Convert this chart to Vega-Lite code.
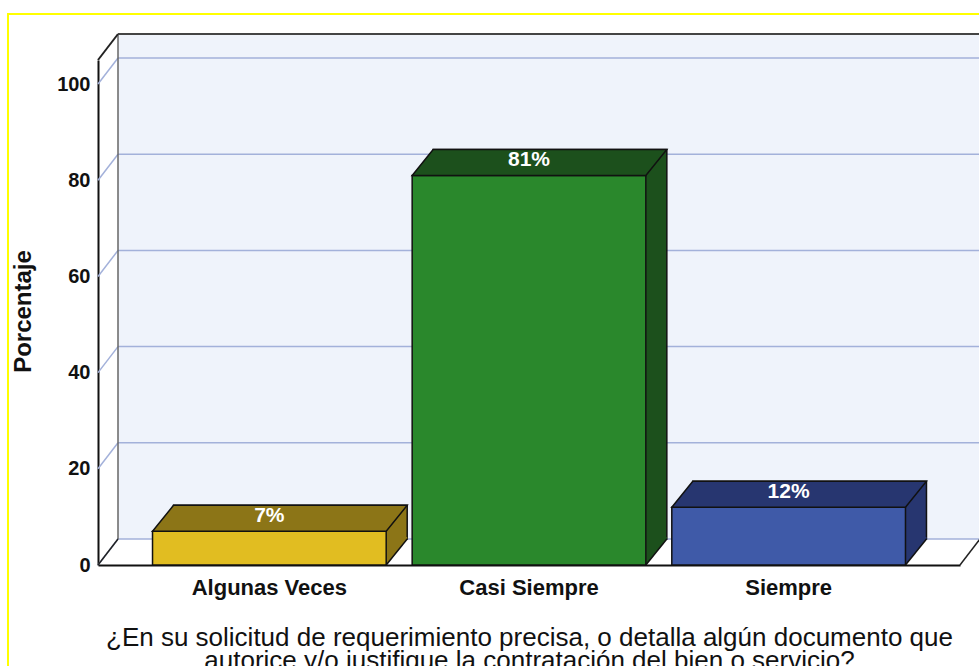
{
  "$schema": "https://vega.github.io/schema/vega-lite/v6.json",
  "width": 971,
  "height": 652,
  "autosize": {"type": "none"},
  "padding": {"left": 8, "top": 14, "right": 0, "bottom": 0},
  "background": "white",
  "config": {
    "view": {"stroke": "#FFFF00", "strokeWidth": 2, "fill": "white", "strokeDash": [971, 1623, 652]},
    "font": "Liberation Sans"
  },
  "datasets": {
    "barras": [
      {"categoria": "Algunas Veces", "porcentaje": 7, "etiqueta": "7%"},
      {"categoria": "Casi Siempre", "porcentaje": 81, "etiqueta": "81%"},
      {"categoria": "Siempre", "porcentaje": 12, "etiqueta": "12%"}
    ],
    "rejilla": [
      {"porcentaje": 0}, {"porcentaje": 20}, {"porcentaje": 40},
      {"porcentaje": 60}, {"porcentaje": 80}, {"porcentaje": 100}
    ]
  },
  "resolve": {"scale": {"x": "independent"}},
  "layer": [
    {
      "data": {"name": "barras"},
      "layer": [
        {
          "mark": {"type": "bar", "xOffset": 21, "yOffset": -26, "y2Offset": -26, "stroke": "#111111", "strokeWidth": 1.5, "opacity": 0},
          "encoding": {
            "x": {"field": "categoria", "type": "nominal", "scale": {"type": "band", "domain": ["Algunas Veces", "Casi Siempre", "Siempre"], "range": [90, 952], "paddingInner": 0.1, "paddingOuter": 0.21},
              "axis": {"orient": "bottom", "offset": -101, "domain": true, "domainColor": "#111111", "domainWidth": 2, "ticks": false, "tickSize": 0, "grid": false, "labelAngle": 0, "labelFontSize": 22, "labelFontWeight": "bold", "labelColor": "#111111", "labelPadding": 12,
                "title": ["¿En su solicitud de requerimiento precisa, o detalla algún documento que", "autorice y/o justifique la contratación del bien o servicio?"],
                "titleFontSize": 26, "titleFontWeight": "normal", "titleColor": "#111111", "titleLineHeight": 23, "titleY": 80, "titleBaseline": "alphabetic"}},
            "y": {"field": "porcentaje", "type": "quantitative", "scale": {"domain": [0, 105], "range": [551, 46], "nice": false, "zero": false},
              "axis": {"orient": "left", "offset": -90, "values": [0, 20, 40, 60, 80, 100], "domain": true, "domainColor": "#111111", "domainWidth": 2, "ticks": false, "tickSize": 0, "grid": false, "labelFontSize": 20, "labelFontWeight": "bold", "labelColor": "#111111", "labelPadding": 8,
                "title": "Porcentaje", "titleFontSize": 24, "titleFontWeight": "bold", "titleColor": "#111111", "titleAngle": -90, "titleX": -75, "titleY": 297, "titleAlign": "center", "titleBaseline": "middle"}},
            "y2": {"datum": 0}
          }
        }
      ]
    },
    {
      "data": {"values": [{}]},
      "layer": [
        {
          "mark": {"type": "rect", "xOffset": 20, "x2Offset": 20, "yOffset": -26, "y2Offset": -26, "fill": "#EFF3FB"},
          "encoding": {
            "x": {"datum": 0, "type": "quantitative", "scale": {"domain": [0, 1], "range": [90, 952], "nice": false, "zero": false}, "axis": null},
            "x2": {"datum": 1},
            "y": {"datum": 0, "type": "quantitative", "scale": {"domain": [0, 105], "range": [551, 46], "nice": false, "zero": false}},
            "y2": {"datum": 105}
          }
        },
        {
          "data": {"name": "rejilla"},
          "mark": {"type": "rule", "xOffset": 20, "x2Offset": 20, "yOffset": -26, "color": "#A3B1DA", "strokeWidth": 1.5},
          "encoding": {
            "x": {"datum": 0, "type": "quantitative", "scale": {"domain": [0, 1], "range": [90, 952], "nice": false, "zero": false}, "axis": null},
            "x2": {"datum": 1},
            "y": {"field": "porcentaje", "type": "quantitative", "scale": {"domain": [0, 105], "range": [551, 46], "nice": false, "zero": false}}
          }
        },
        {
          "data": {"name": "rejilla"},
          "mark": {"type": "rule", "x2Offset": 20, "y2Offset": -26, "color": "#A3B1DA", "strokeWidth": 1.5},
          "encoding": {
            "x": {"datum": 0, "type": "quantitative", "scale": {"domain": [0, 1], "range": [90, 952], "nice": false, "zero": false}, "axis": null},
            "x2": {"datum": 0},
            "y": {"field": "porcentaje", "type": "quantitative", "scale": {"domain": [0, 105], "range": [551, 46], "nice": false, "zero": false}},
            "y2": {"field": "porcentaje"}
          }
        },
        {
          "mark": {"type": "rule", "xOffset": 20, "x2Offset": 20, "yOffset": -26, "color": "#444444", "strokeWidth": 2},
          "encoding": {
            "x": {"datum": 0, "type": "quantitative", "scale": {"domain": [0, 1], "range": [90, 952], "nice": false, "zero": false}, "axis": null},
            "x2": {"datum": 1},
            "y": {"datum": 105, "type": "quantitative", "scale": {"domain": [0, 105], "range": [551, 46], "nice": false, "zero": false}}
          }
        },
        {
          "mark": {"type": "rule", "xOffset": 20, "yOffset": -26, "y2Offset": -26, "color": "#666666", "strokeWidth": 1.5},
          "encoding": {
            "x": {"datum": 0, "type": "quantitative", "scale": {"domain": [0, 1], "range": [90, 952], "nice": false, "zero": false}, "axis": null},
            "y": {"datum": 0, "type": "quantitative", "scale": {"domain": [0, 105], "range": [551, 46], "nice": false, "zero": false}},
            "y2": {"datum": 105}
          }
        },
        {
          "mark": {"type": "rule", "x2Offset": 20, "y2Offset": -26, "color": "#222222", "strokeWidth": 2},
          "encoding": {
            "x": {"datum": 0, "type": "quantitative", "scale": {"domain": [0, 1], "range": [90, 952], "nice": false, "zero": false}, "axis": null},
            "x2": {"datum": 0},
            "y": {"datum": 105, "type": "quantitative", "scale": {"domain": [0, 105], "range": [551, 46], "nice": false, "zero": false}},
            "y2": {"datum": 105}
          }
        },
        {
          "mark": {"type": "rule", "x2Offset": 20, "y2Offset": -26, "color": "#222222", "strokeWidth": 1.5},
          "encoding": {
            "x": {"datum": 0, "type": "quantitative", "scale": {"domain": [0, 1], "range": [90, 952], "nice": false, "zero": false}, "axis": null},
            "x2": {"datum": 0},
            "y": {"datum": 0, "type": "quantitative", "scale": {"domain": [0, 105], "range": [551, 46], "nice": false, "zero": false}},
            "y2": {"datum": 0}
          }
        },
        {
          "mark": {"type": "rule", "x2Offset": 20, "y2Offset": -26, "color": "#222222", "strokeWidth": 1.5},
          "encoding": {
            "x": {"datum": 1, "type": "quantitative", "scale": {"domain": [0, 1], "range": [90, 952], "nice": false, "zero": false}, "axis": null},
            "x2": {"datum": 1},
            "y": {"datum": 0, "type": "quantitative", "scale": {"domain": [0, 105], "range": [551, 46], "nice": false, "zero": false}},
            "y2": {"datum": 0}
          }
        }
      ]
    },
    {
      "data": {"name": "barras"},
      "layer": [
        {
          "mark": {"type": "bar", "xOffset": 21, "yOffset": -26, "y2Offset": -26, "stroke": "#111111", "strokeWidth": 1.5},
          "encoding": {
            "x": {"field": "categoria", "type": "nominal", "scale": {"type": "band", "domain": ["Algunas Veces", "Casi Siempre", "Siempre"], "range": [90, 952], "paddingInner": 0.1, "paddingOuter": 0.21}, "axis": null},
            "y": {"field": "porcentaje", "type": "quantitative", "scale": {"domain": [0, 105], "range": [551, 46], "nice": false, "zero": false}},
            "y2": {"datum": 0},
            "fill": {"field": "categoria", "type": "nominal", "scale": {"domain": ["Algunas Veces", "Casi Siempre", "Siempre"], "range": ["#8C7517", "#1C501C", "#273670"]}, "legend": null}
          }
        },
        {
          "mark": {"type": "point", "shape": "M0,-28 L21,-28 L21,-26 L0,0 Z", "size": 4, "filled": true, "opacity": 1, "strokeWidth": 0},
          "encoding": {
            "x": {"field": "categoria", "type": "nominal", "bandPosition": 1, "scale": {"type": "band", "domain": ["Algunas Veces", "Casi Siempre", "Siempre"], "range": [90, 952], "paddingInner": 0.1, "paddingOuter": 0.21}, "axis": null},
            "y": {"datum": 0, "type": "quantitative", "scale": {"domain": [0, 105], "range": [551, 46], "nice": false, "zero": false}},
            "fill": {"field": "categoria", "type": "nominal", "scale": {"domain": ["Algunas Veces", "Casi Siempre", "Siempre"], "range": ["#8C7517", "#1C501C", "#273670"]}, "legend": null}
          }
        },
        {
          "mark": {"type": "bar", "stroke": "#111111", "strokeWidth": 1.5},
          "encoding": {
            "x": {"field": "categoria", "type": "nominal", "scale": {"type": "band", "domain": ["Algunas Veces", "Casi Siempre", "Siempre"], "range": [90, 952], "paddingInner": 0.1, "paddingOuter": 0.21}, "axis": null},
            "y": {"field": "porcentaje", "type": "quantitative", "scale": {"domain": [0, 105], "range": [551, 46], "nice": false, "zero": false}},
            "y2": {"datum": 0},
            "color": {"field": "categoria", "type": "nominal", "scale": {"domain": ["Algunas Veces", "Casi Siempre", "Siempre"], "range": ["#E1BD21", "#2A882C", "#3F5AA8"]}, "legend": null}
          }
        },
        {
          "mark": {"type": "point", "shape": "M-116.84,0 L116.84,0 L137.84,-26 L-95.84,-26 Z", "size": 4, "filled": true, "opacity": 1, "stroke": "#111111", "strokeWidth": 1.5},
          "encoding": {
            "x": {"field": "categoria", "type": "nominal", "scale": {"type": "band", "domain": ["Algunas Veces", "Casi Siempre", "Siempre"], "range": [90, 952], "paddingInner": 0.1, "paddingOuter": 0.21}, "axis": null},
            "y": {"field": "porcentaje", "type": "quantitative", "scale": {"domain": [0, 105], "range": [551, 46], "nice": false, "zero": false}},
            "fill": {"field": "categoria", "type": "nominal", "scale": {"domain": ["Algunas Veces", "Casi Siempre", "Siempre"], "range": ["#8C7517", "#1C501C", "#273670"]}, "legend": null}
          }
        },
        {
          "mark": {"type": "point", "shape": "M0,0 L21,-26", "size": 4, "filled": false, "opacity": 1, "stroke": "#111111", "color": "#111111", "strokeWidth": 1.5},
          "encoding": {
            "x": {"field": "categoria", "type": "nominal", "bandPosition": 1, "scale": {"type": "band", "domain": ["Algunas Veces", "Casi Siempre", "Siempre"], "range": [90, 952], "paddingInner": 0.1, "paddingOuter": 0.21}, "axis": null},
            "y": {"datum": 0, "type": "quantitative", "scale": {"domain": [0, 105], "range": [551, 46], "nice": false, "zero": false}}
          }
        },
        {
          "mark": {"type": "text", "dy": -15, "baseline": "middle", "align": "center", "fontSize": 21, "fontWeight": "bold", "color": "white"},
          "encoding": {
            "x": {"field": "categoria", "type": "nominal", "scale": {"type": "band", "domain": ["Algunas Veces", "Casi Siempre", "Siempre"], "range": [90, 952], "paddingInner": 0.1, "paddingOuter": 0.21}, "axis": null},
            "y": {"field": "porcentaje", "type": "quantitative", "scale": {"domain": [0, 105], "range": [551, 46], "nice": false, "zero": false}},
            "text": {"field": "etiqueta"}
          }
        }
      ]
    }
  ]
}
